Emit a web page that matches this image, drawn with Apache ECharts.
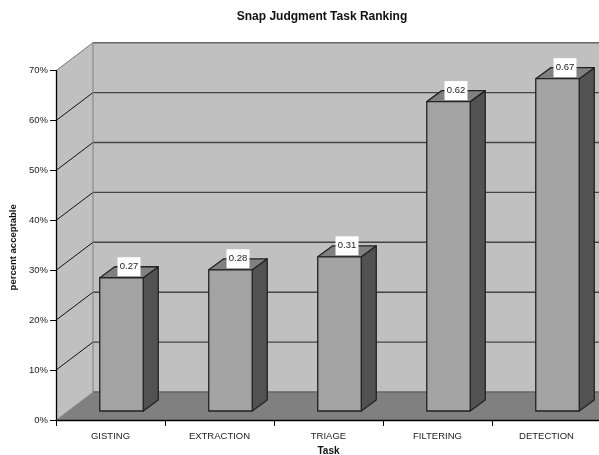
<!DOCTYPE html>
<html><head><meta charset="utf-8">
<style>html,body{margin:0;padding:0;background:#fff;overflow:hidden}#c{width:599px;height:455px}</style>
<script src="https://cdn.jsdelivr.net/npm/echarts@6/dist/echarts.min.js"></script>
</head><body><div id="c"></div>
<script>
const categories = ['GISTING','EXTRACTION','TRIAGE','FILTERING','DETECTION'];
const values = [0.267,0.283,0.309,0.62,0.666];
const ticks = [0,0.1,0.2,0.3,0.4,0.5,0.6,0.7];
const FONT = '"Liberation Sans", Arial, sans-serif';
const WALL_DX = 37, WALL_DY = 28;       // depth of the chart box
const BAR_DX = 15, BAR_DY = 11;         // depth of a bar
const BAR_SHIFT_X = 11, BAR_SHIFT_Y = 9; // bar placement inside the box
const BAR_W = 43.5;

const chart = echarts.init(document.getElementById('c'), null, {width:599, height:455});

function renderWalls(params, api) {
  const y0 = api.coord([0, 0]);
  const top = api.coord([0, ticks[ticks.length-1]]);
  const xL = y0[0] - api.size([1,0])[0]/2;
  const xR = xL + api.size([1,0])[0]*categories.length;
  const yB = y0[1], yT = top[1];
  const ch = [];
  const poly = (pts, fill, stroke, w) => ({type:'polygon', shape:{points:pts}, silent:true,
    style:{fill:fill, stroke:stroke||null, lineWidth:w||0}});
  const line = (x1,y1,x2,y2,c,w) => ({type:'line', silent:true, shape:{x1,y1,x2,y2}, style:{stroke:c, lineWidth:w||1}});
  ch.push(poly([[xL+WALL_DX,yT-WALL_DY],[xR+WALL_DX,yT-WALL_DY],[xR+WALL_DX,yB-WALL_DY],[xL+WALL_DX,yB-WALL_DY]], '#c0c0c0'));
  ch.push(poly([[xL,yB],[xL+WALL_DX,yB-WALL_DY],[xL+WALL_DX,yT-WALL_DY],[xL,yT]], '#c0c0c0'));
  ch.push(poly([[xL,yB],[xL+WALL_DX,yB-WALL_DY],[xR+WALL_DX,yB-WALL_DY],[xR,yB]], '#808080'));
  ticks.forEach((t,i) => {
    const y = api.coord([0,t])[1];
    const last = i === ticks.length-1;
    ch.push(line(xL+WALL_DX, y-WALL_DY, xR+WALL_DX, y-WALL_DY, (i===0||last)?'#666':'#444', 1.4));
    if (i>0) ch.push(line(xL, y, xL+WALL_DX, y-WALL_DY, last?'#777':'#111', 1));
    else ch.push(line(xL, y, xL+WALL_DX, y-WALL_DY, '#999', 1));
  });
  ch.push(line(xL+WALL_DX, yT-WALL_DY, xL+WALL_DX, yB-WALL_DY, '#808080', 1));
  return {type:'group', children:ch};
}

function renderBar(params, api) {
  const i = api.value(0), v = api.value(1);
  const base = api.coord([i,0]), topP = api.coord([i,v]);
  const x = base[0] + BAR_SHIFT_X - BAR_W/2, xr = x + BAR_W;
  const yb = base[1] - BAR_SHIFT_Y, yt = topP[1] - BAR_SHIFT_Y;
  const stroke = '#222';
  const st = f => ({fill:f, stroke:stroke, lineWidth:1.3, lineJoin:'round'});
  const cx = (x+xr)/2 + BAR_DX/2, cy = yt - BAR_DY;
  return {type:'group', children:[
    {type:'polygon', shape:{points:[[xr,yb],[xr+BAR_DX,yb-BAR_DY],[xr+BAR_DX,yt-BAR_DY],[xr,yt]]}, style:st('#525252')},
    {type:'polygon', shape:{points:[[x,yt],[x+BAR_DX,yt-BAR_DY],[xr+BAR_DX,yt-BAR_DY],[xr,yt]]}, style:st('#808080')},
    {type:'polygon', shape:{points:[[x,yb],[xr,yb],[xr,yt],[x,yt]]}, style:st('#a3a3a3')},
    {type:'rect', shape:{x:cx-11.5, y:cy-9.5, width:23, height:19}, style:{fill:'#fff'}},
    {type:'text', x:cx, y:cy, style:{text:v.toFixed(2), fill:'#222', font:'9.5px '+FONT, align:'center', verticalAlign:'middle'}}
  ]};
}

chart.setOption({
  animation:false,
  backgroundColor:'#fff',
  title:{text:'Snap Judgment Task Ranking', left:317, top:6, textAlign:'center',
    textStyle:{fontFamily:FONT, fontSize:12, fontWeight:'bold', color:'#111'}},
  grid:{left:56, top:70.7, width:545, height:349.3, containLabel:false, outerBoundsMode:'none'},
  xAxis:{type:'category', data:categories, name:'Task', nameLocation:'middle', nameGap:26, z:5,
    nameTextStyle:{fontFamily:FONT, fontSize:10, fontWeight:'bold', color:'#111'},
    axisLine:{lineStyle:{color:'#000', width:1.3}},
    axisTick:{show:true, length:6, alignWithLabel:false, lineStyle:{color:'#000'}},
    axisLabel:{fontFamily:FONT, fontSize:9.5, color:'#222', margin:11, interval:0}, splitLine:{show:false}},
  yAxis:{type:'value', min:0, max:0.7, interval:0.1, name:'percent acceptable', nameLocation:'middle', nameGap:32, z:5,
    nameTextStyle:{fontFamily:FONT, fontSize:9.5, fontWeight:'bold', color:'#111', padding:[0,4,0,0]},
    axisLine:{show:true, lineStyle:{color:'#000', width:1.3}},
    axisTick:{show:true, length:6, lineStyle:{color:'#000'}},
    axisLabel:{fontFamily:FONT, fontSize:9.5, color:'#222', margin:8, formatter:v=>Math.round(v*100)+'%'},
    splitLine:{show:false}},
  series:[
    {type:'custom', name:'walls', silent:true, clip:false, z:1, data:[[0,0]], renderItem:renderWalls, encode:{x:0,y:1}},
    {type:'custom', name:'percent acceptable', clip:false, z:2, renderItem:renderBar, encode:{x:0,y:1},
      data:values.map((v,i)=>[i,v])}
  ]
});
</script></body></html>
